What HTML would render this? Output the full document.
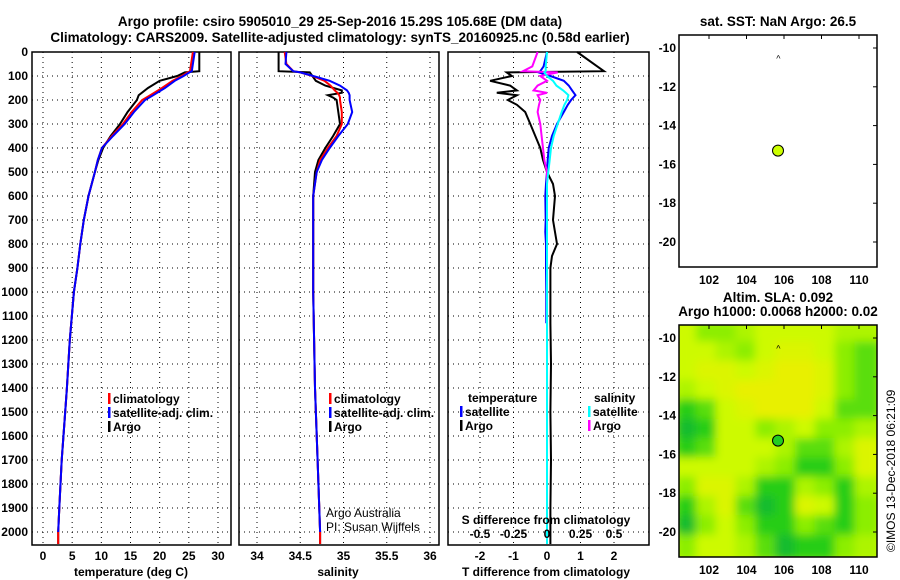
<!DOCTYPE html>
<html><head><meta charset="utf-8">
<style>
body{margin:0;background:#fff;}
svg{display:block;font-family:"Liberation Sans",sans-serif;}
.b{font-weight:bold;font-size:12px;}
.n{font-weight:normal;font-size:12px;}
.t{font-weight:bold;font-size:13.5px;}
</style></head>
<body>
<svg id="c" width="900" height="580" xmlns="http://www.w3.org/2000/svg">
<text class="t" x="340" y="26" text-anchor="middle">Argo profile: csiro 5905010_29 25-Sep-2016 15.29S 105.68E (DM data)</text>
<text class="t" x="340" y="42" text-anchor="middle">Climatology: CARS2009. Satellite-adjusted climatology: synTS_20160925.nc (0.58d earlier)</text>
<text class="t" x="778" y="26" text-anchor="middle">sat. SST: NaN Argo: 26.5</text>
<text class="t" x="778" y="302" text-anchor="middle">Altim. SLA: 0.092</text>
<text class="t" x="778" y="316" text-anchor="middle">Argo h1000: 0.0068 h2000: 0.02</text>
<text x="895" y="552" font-size="12" transform="rotate(-90 895 552)">©IMOS 13-Dec-2018 06:21:09</text>
</svg>
<script>
// ---- data ----
const tDepth=[0,80,85,100,120,150,180,200,250,300,350,400,450,500,600,700,800,900,1000,1200,1400,1500,1700,1900,2000,2050];
const tArgo=[26.8,26.8,24.3,23,20,18,16.4,16.1,14.5,13.2,11.6,10.3,9.5,8.9,7.8,7.0,6.4,5.9,5.3,4.6,4.1,3.8,3.2,2.8,2.6,2.6];
const tClim=[25.7,25.2,24.8,23.8,22.2,20.4,18.4,17.0,15.2,13.7,11.8,10.1,9.4,8.9,7.8,7.0,6.4,5.9,5.3,4.6,4.1,3.8,3.2,2.8,2.6,2.6];
const tSat=[26.0,25.5,25.1,24.1,22.6,20.9,18.9,17.5,15.6,14.0,12.0,10.1,9.4,8.9,7.8,7.0,6.4,5.9,5.3,4.6,4.1,3.8,3.2,2.8,2.6];
const sDepth=[0,50,80,85,100,120,140,160,170,180,190,200,250,300,350,400,450,500,600,800,1000,1400,1700,2000,2050];
const sArgo=[34.25,34.25,34.25,34.61,34.64,34.68,34.79,34.98,34.98,34.82,34.88,34.92,34.94,34.96,34.88,34.79,34.71,34.67,34.65,34.65,34.65,34.67,34.70,34.73,34.73];
const sClim=[34.32,34.34,34.42,34.5,34.64,34.78,34.85,34.9,34.93,34.95,34.96,34.96,34.98,34.98,34.92,34.82,34.73,34.69,34.65,34.65,34.65,34.67,34.70,34.73,34.73];
const sSat=[34.34,34.33,34.42,34.5,34.65,34.84,34.96,35.04,35.06,35.07,35.07,35.07,35.10,35.05,34.94,34.84,34.75,34.69,34.65,34.65,34.65,34.67,34.70,34.73];
const dDepth=[0,60,80,85,100,120,140,160,170,180,200,220,250,300,350,400,450,500,550,600,700,750,800,850,900,1000,1130,1300,1500,1700,1900,2050];
const dTArgo=[0.9,1.5,1.7,-1.2,-1.05,-1.7,-1.1,-0.9,-1.5,-0.9,-1.17,-0.9,-0.65,-0.5,-0.35,-0.2,-0.12,0,0.18,0.24,0.18,0.24,0.3,0.15,0.1,0.1,0.1,0.12,0.1,0.12,0.1,0.1];
const dTSat=[0,-0.1,-0.2,-0.25,0.1,0.5,0.65,0.75,0.8,0.85,0.72,0.62,0.5,0.3,0.15,0.05,0.02,0,-0.03,-0.05,-0.04,-0.05,-0.03,-0.03,-0.03,-0.02,-0.02];
const dSArgo=[-0.07,-0.11,-0.18,0.08,-0.05,0,-0.07,-0.1,0,-0.07,-0.05,-0.06,-0.07,-0.05,-0.04,-0.03,-0.02,0,0,0,0,0,0,0,0,0,0,0,0,0,0,0];
const dSSat=[0,-0.01,-0.01,-0.02,0,0.045,0.07,0.12,0.14,0.16,0.15,0.13,0.11,0.08,0.05,0.03,0.02,0.01,0,0,0,0,0,0,0,0,0,0,0,0,0,0];
const depthTicks=[0,100,200,300,400,500,600,700,800,900,1000,1100,1200,1300,1400,1500,1600,1700,1800,1900,2000];
const tTicks=[0,5,10,15,20,25,30];
const sTicks=[34,34.5,35,35.5,36];
const dTTicks=[-2,-1,0,1,2];
const dSTicks=[-0.5,-0.25,0,0.25,0.5];
const lonTicks=[102,104,106,108,110];
const latTicks=[-10,-12,-14,-16,-18,-20];
const floatLon=105.68, floatLat=-15.29, prevLon=105.7, prevLat=-10.5;
const slaGrid=[
[1,2,2,1.5,1,1,1,1,1.5,1.5],
[1,1,1.5,2,1,0.5,0.5,1,2,2.5],
[1,0.5,0.5,1,0.5,0,0,0.5,2,2.5],
[1.5,1,0.5,0,0,0,0,0.5,2,2.5],
[3,2.5,1,0.5,0,0,0,1,2.5,2.5],
[3.5,3,1,1,2,1.5,1,2,2,1.5],
[3,2.5,1,1,1,1.5,2.5,2.5,1.5,0.5],
[1,1,1,1,1.5,2,3,3,2,0.5],
[2,0.5,0.5,1.5,3,3,1.5,2,3,1.5],
[3,1.5,0.5,2.5,3.5,3,0.5,1,3,2],
[3.5,2,1,2,3,3,2,2.5,3,2],
[2,1,1,1.5,2.5,3.5,3,3,2,1.5]];
// ---- drawing ----
const svg=document.getElementById('c');const NS='http://www.w3.org/2000/svg';
function el(tag,attrs,parent){const e=document.createElementNS(NS,tag);for(const k in attrs)e.setAttribute(k,attrs[k]);(parent||svg).appendChild(e);return e;}
function txt(x,y,s,cls,anchor){const e=el('text',{x:x,y:y,'class':cls||'b','text-anchor':anchor||'middle'});e.textContent=s;return e;}
const Y0=52,Y1=545;const yD=d=>Y0+d*0.24;
function lin(d0,d1,p0,p1){return v=>p0+(v-d0)/(d1-d0)*(p1-p0);}
function panel(x0,x1,xs,ticks,name,labels){
  const g=el('g',{});
  
  
  ticks.forEach(v=>{const l=el('line',{x1:xs(v),x2:xs(v),y1:Y0,y2:Y1,stroke:'#000','stroke-dasharray':'1 4','stroke-width':1},g);
    
    if(labels){const t=txt(xs(v),560,String(v));}});
  depthTicks.forEach(d=>{const l=el('line',{x1:x0,x2:x1,y1:yD(d),y2:yD(d),stroke:'#000','stroke-dasharray':'1 4'},g);
    });
  const r=el('rect',{x:x0,y:Y0,width:x1-x0,height:Y1-Y0,fill:'none',stroke:'#000','stroke-width':1.5},g);
  
  return g;
}
function line(xs,vals,depths,color,name,w){
  const pts=vals.map((v,i)=>xs(v).toFixed(1)+','+yD(depths[i]).toFixed(1)).join(' ');
  const p=el('polyline',{points:pts,fill:'none',stroke:color,'stroke-width':w||2,'stroke-linejoin':'miter'});
  
}
function legend(x,y,color,label,name){
  const r=el('rect',{x:x,y:y-10,width:2.5,height:11,fill:color});
  
  const t=txt(x+5,y,label,'b','start');
  
}
depthTicks.forEach(d=>{const t=txt(28,yD(d)+4,String(d),'b','end');});
// panel 1 temperature
const xT=lin(0,30,43,218);
panel(32,231,xT,tTicks,'temperature-panel',true);
line(xT,tArgo,tDepth,'#000','argo-temperature-line');
line(xT,tClim,tDepth,'#f00','climatology-temperature-line');
line(xT,tSat,tDepth,'#00f','satellite-temperature-line');
legend(108,403,'#f00','climatology','legend-climatology');
legend(108,417,'#00f','satellite-adj. clim.','legend-satellite-adj');
legend(108,431,'#000','Argo','legend-argo');
{const t=txt(131,576,'temperature (deg C)');}
// panel 2 salinity
const xS=lin(34,36,257,430);
panel(239,439,xS,sTicks,'salinity-panel',true);
line(xS,sArgo,sDepth,'#000','argo-salinity-line');
line(xS,sClim,sDepth,'#f00','climatology-salinity-line');
line(xS,sSat,sDepth,'#00f','satellite-salinity-line');
legend(329,403,'#f00','climatology','legend-climatology-s');
legend(329,417,'#00f','satellite-adj. clim.','legend-satellite-adj-s');
legend(329,431,'#000','Argo','legend-argo-s');
{let t=txt(326,517,'Argo Australia','n','start');
 t=txt(326,531,'PI: Susan Wijffels','n','start');
 t=txt(338,576,'salinity');}
// panel 3 differences
const xDT=lin(0,2,547,614);const xDS=lin(0,0.5,547,614);
panel(448,649,xDT,dTTicks,'difference-panel',true);
line(xDT,dTArgo,dDepth,'#000','argo-temperature-diff-line');
line(xDT,dTSat,dDepth.slice(0,dTSat.length),'#00f','satellite-temperature-diff-line');
line(xDS,dSArgo,dDepth,'#f0f','argo-salinity-diff-line');
line(xDS,dSSat,dDepth,'#0ff','satellite-salinity-diff-line');
{let t=txt(468,402,'temperature','b','start');
 t=txt(594,402,'salinity','b','start');}
legend(460,416,'#00f','satellite','legend-t-satellite');
legend(460,430,'#000','Argo','legend-t-argo');
legend(588,416,'#0ff','satellite','legend-s-satellite');
legend(588,430,'#f0f','Argo','legend-s-argo');
{let t=txt(546,524,'S difference from climatology');
 dSTicks.forEach(v=>{const q=txt(xDS(v),538,v===0?'0':String(v));});
 t=txt(546,576,'T difference from climatology');}
// maps
function cmap(v){const stops=[[232,240,0],[205,250,0],[140,238,0],[40,205,20],[0,170,70]];
  const i=Math.min(3,Math.floor(v)),f=v-i;const a=stops[i],b=stops[i+1];
  return 'rgb('+a.map((c,k)=>Math.round(c+(b[k]-c)*f)).join(',')+')';}
function map(top,name,heat,fillCol){
  const x0=679,x1=877,y0=top,y1=top+232;
  const mx=lin(102,110,709,859), my=lin(-10,-20,y0+13,y0+207);
  const g=el('g',{});
  if(heat){
    const defs=el('defs',{},g);
    const cp=el('clipPath',{id:'cp'+top},defs);el('rect',{x:x0,y:y0,width:x1-x0,height:y1-y0},cp);
    const f=el('filter',{id:'bl'+top,x:'-10%',y:'-10%',width:'120%',height:'120%'},defs);el('feGaussianBlur',{stdDeviation:4.5},f);
    const hg=el('g',{'clip-path':'url(#cp'+top+')'},g);
    el('rect',{x:x0,y:y0,width:x1-x0,height:y1-y0,fill:cmap(1)},hg);
    const bg=el('g',{filter:'url(#bl'+top+')'},hg);
    const cw=(x1-x0)/10,ch=(y1-y0)/12;
    slaGrid.forEach((row,r)=>row.forEach((v,c)=>{const cell=el('rect',{x:x0+c*cw-3,y:y0+r*ch-3,width:cw+6,height:ch+6,fill:cmap(v)},bg);
      }));
  }
  const fr=el('rect',{x:x0,y:y0,width:x1-x0,height:y1-y0,fill:'none',stroke:'#000','stroke-width':1.5},g);
  
  lonTicks.forEach(v=>{el('line',{x1:mx(v),x2:mx(v),y1:y0,y2:y0+4,stroke:'#000'},g);
    const t=txt(mx(v),y1+17,String(v));});
  latTicks.forEach(v=>{el('line',{x1:x1,x2:x1-4,y1:my(v),y2:my(v),stroke:'#000'},g);
    const t=txt(676,my(v)+4,String(v),'b','end');});
  const c=el('circle',{cx:mx(floatLon),cy:my(floatLat),r:5.5,fill:fillCol,stroke:'#000','stroke-width':1},g);
  
  const p=el('text',{x:mx(prevLon),y:my(prevLat)+4,'font-size':'9','text-anchor':'middle'},g);p.textContent='^';
  
}
map(35,'sst-map',false,'#ccff00');
map(325,'sla-map',true,'#22cc22');
</script>
</body></html>
